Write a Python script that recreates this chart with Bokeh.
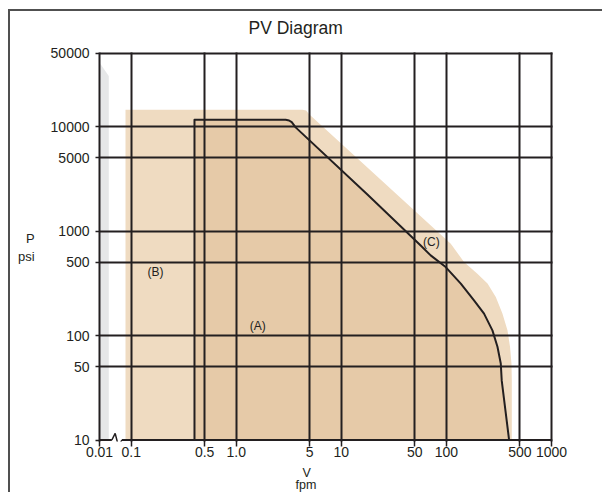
import math
from bokeh.plotting import figure
from bokeh.models import (FixedTicker, Range1d, CustomJSTickFormatter, PrintfTickFormatter,
                          Title, InlineStyleSheet)
from bokeh.core.properties import value
from bokeh.embed import file_html
from bokeh.resources import INLINE

# ---------------- data ----------------
X_TICKS = [0.01, 0.1, 0.5, 1.0, 5, 10, 50, 100, 500, 1000]
X_LABELS = ["0.01", "0.1", "0.5", "1.0", "5", "10", "50", "100", "500", "1000"]
Y_TICKS = [10, 50, 100, 500, 1000, 5000, 10000, 50000]

# Region (B): light envelope (V fpm, P psi)
B_V = [0.066, 0.066, 4.26, 4.63, 4.91, 110, 147, 197, 246, 295, 341, 381, 403, 416, 419, 419]
B_P = [10, 14500, 14500, 14200, 13200, 756, 505, 391, 314, 234, 162, 112, 78, 54, 37, 10]

# Region (A): dark area bounded by the black curve
A_V = [0.40, 0.40, 2.95, 3.18, 3.37, 3.67, 17.7, 56.9, 70.8, 98.4, 137, 183, 228, 274, 306, 329, 336, 395]
A_P = [10, 11600, 11600, 11430, 11000, 9820, 2240, 728, 585, 452, 314, 217, 162, 112, 78, 54, 37, 10]

# grey strip near 0.01
G_V = [0.0105, 0.0105, 0.0196, 0.0196]
G_P = [10, 40000, 30500, 10]

LABEL_TEXT = ["(A)", "(B)", "(C)"]
LABEL_V = [1.6, 0.17, 72]
LABEL_P = [123, 403, 778]

TITLE = "PV Diagram"
Y_NAME = "P\npsi"
X_NAME = ["V", "fpm"]

# ---------------- style ----------------
K = 0.302            # compression of the 0.01-0.1 decade (axis break)
PX_DEC = 104.7       # px per decade on y (used for small pixel pads)
INK = "#231F20"
LIGHT = "#EFDBC1"
DARK = "#E6CAA8"
GREY = "#E6E7E8"
FONT = "Liberation Sans"


def xmap(v):
    lv = math.log10(v)
    return lv if lv >= -1 else -1 + (lv + 1) * K


x0 = xmap(X_TICKS[0])
x1 = xmap(X_TICKS[-1])
xpad = 1.0 / 105
ylo = Y_TICKS[0] / 10 ** (1.5 / PX_DEC)
yhi = Y_TICKS[-1] * 10 ** (1.0 / PX_DEC)

W, H = 602, 492
p = figure(width=W, height=H, y_axis_type="log",
           x_range=Range1d(x0, x1 + xpad), y_range=Range1d(ylo, yhi),
           output_backend="svg", toolbar_location=None,
           min_border_left=99, min_border_right=50, min_border_top=52, min_border_bottom=51,
           title=TITLE)
p.outline_line_color = None
p.background_fill_color = "white"
p.border_fill_color = "white"
# outer panel edges (top and left lines)
p.stylesheets = [InlineStyleSheet(css=(
    ":host::before { content: ''; position: absolute; left: 8px; top: 9px; "
    "width: 594px; height: 2px; background: #505050; pointer-events: none; z-index: 10; }"
    ":host::after { content: ''; position: absolute; left: 8px; top: 9px; "
    "width: 2px; height: 483px; background: #505050; pointer-events: none; z-index: 10; }"))]

p.title.align = "left"
p.title.offset = 149
p.title.text_font = FONT
p.title.text_font_size = "17.5px"
p.title.text_font_style = "normal"
p.title.text_color = INK
p.title.standoff = 29

# fills
p.patch([xmap(v) for v in G_V], G_P, fill_color=GREY, line_color=None)
p.patch([xmap(v) for v in B_V], B_P, fill_color=LIGHT, line_color=None)
p.patch([xmap(v) for v in A_V], A_P, fill_color=DARK, line_color=INK, line_width=2,
        line_join="round")

# x axis line with break symbol
xb = (xmap(0.01) + xmap(0.1)) / 2 + 1.5 / 105
dz = 5.0 / 105
dzi = 1.7 / 105
f = 10 ** (6.7 / PX_DEC)
y0 = Y_TICKS[0]
p.line([x0, xb - dz], [y0, y0], line_color=INK, line_width=2)
p.line([xb - dz, xb - dzi, xb + dzi, xb + dz], [y0, y0 * f, y0 / f, y0], line_color=INK, line_width=1.5)
p.line([xb + dz, x1 + xpad], [y0, y0], line_color=INK, line_width=2)

# annotations
p.text(x=[xmap(v) for v in LABEL_V], y=LABEL_P, text=LABEL_TEXT, text_align="center",
       text_baseline="middle", text_font=value(FONT), text_font_size="12px", text_color=INK)

# grid
p.xgrid.ticker = FixedTicker(ticks=[xmap(v) for v in X_TICKS[1:]])
p.ygrid.ticker = FixedTicker(ticks=Y_TICKS[1:])
for g in (p.xgrid, p.ygrid):
    g.grid_line_color = INK
    g.grid_line_width = 2
    g.level = "overlay"
p.xgrid.minor_grid_line_color = None
p.ygrid.minor_grid_line_color = None

# axes
p.xaxis.ticker = FixedTicker(ticks=[xmap(v) for v in X_TICKS])
p.xaxis.formatter = CustomJSTickFormatter(args=dict(labels=X_LABELS), code="return labels[index];")
p.yaxis.ticker = FixedTicker(ticks=Y_TICKS)
p.yaxis.formatter = PrintfTickFormatter(format="%d")

p.xaxis.axis_line_color = None
p.xaxis.major_tick_in = 1
p.xaxis.major_tick_out = 5
p.yaxis.axis_line_color = INK
p.yaxis.axis_line_width = 2
p.yaxis.major_tick_in = 0
p.yaxis.major_tick_out = 4
for ax in (p.xaxis, p.yaxis):
    ax.minor_tick_line_color = None
    ax.major_tick_line_color = INK
    ax.major_tick_line_width = 1.5
    ax.major_label_text_font = FONT
    ax.major_label_text_font_size = "14px"
    ax.major_label_text_color = INK
    ax.axis_label_text_font = FONT
    ax.axis_label_text_font_size = "13px"
    ax.axis_label_text_font_style = "normal"
    ax.axis_label_text_color = INK
p.yaxis.major_label_standoff = 6
p.xaxis.major_label_standoff = 0
p.yaxis.axis_label = Y_NAME
p.yaxis.axis_label_orientation = "horizontal"
p.yaxis.axis_label_standoff = 13

# x axis name (reference puts it left of centre), two lines
p.add_layout(Title(text=X_NAME[0], align="left", offset=203, standoff=9, vertical_align="bottom",
                   text_font=FONT, text_font_size="12.5px", text_font_style="normal",
                   text_color=INK), "below")
p.add_layout(Title(text=X_NAME[1], align="left", offset=196, standoff=-14, vertical_align="top",
                   text_font=FONT, text_font_size="12.5px", text_font_style="normal",
                   text_color=INK), "below")

open("out.html", "w").write(file_html(p, INLINE))
